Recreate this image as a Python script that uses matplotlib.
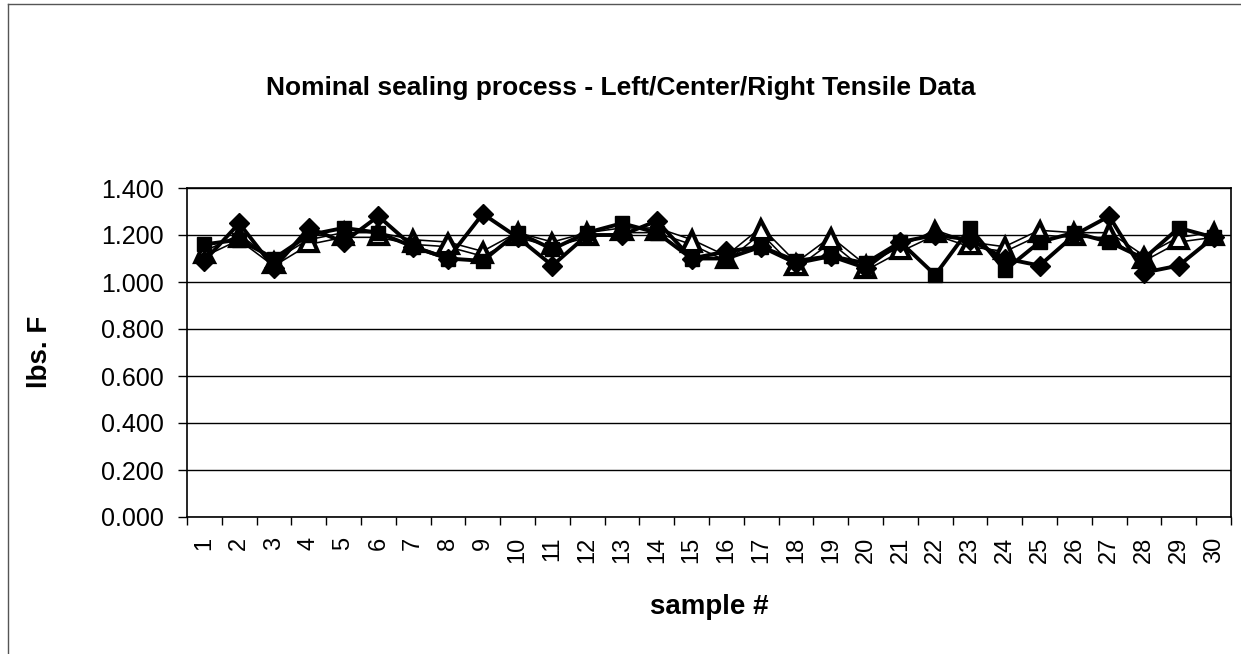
import matplotlib
matplotlib.use("Agg")
import matplotlib.pyplot as plt
import matplotlib.patheffects as pe
from matplotlib.lines import Line2D

plt.rcParams['font.family'] = ['Liberation Sans', 'DejaVu Sans']

samples = [str(i) for i in range(1, 31)]
left = [1.09, 1.25, 1.06, 1.23, 1.17, 1.28, 1.15, 1.10, 1.29, 1.19,
        1.07, 1.20, 1.20, 1.26, 1.10, 1.13, 1.15, 1.08, 1.11, 1.06,
        1.17, 1.20, 1.18, 1.10, 1.07, 1.20, 1.28, 1.04, 1.07, 1.19]
center = [1.16, 1.18, 1.10, 1.20, 1.23, 1.21, 1.15, 1.10, 1.09, 1.21,
          1.14, 1.21, 1.25, 1.21, 1.10, 1.10, 1.15, 1.09, 1.11, 1.08,
          1.17, 1.03, 1.23, 1.05, 1.17, 1.21, 1.17, 1.10, 1.23, 1.19]
right = [1.12, 1.19, 1.08, 1.17, 1.20, 1.20, 1.17, 1.16, 1.12, 1.20,
         1.16, 1.20, 1.22, 1.22, 1.17, 1.10, 1.22, 1.07, 1.18, 1.06,
         1.14, 1.21, 1.16, 1.14, 1.21, 1.20, 1.20, 1.10, 1.18, 1.20]
yticks = [0.0, 0.2, 0.4, 0.6, 0.8, 1.0, 1.2, 1.4]

W, H = 1241, 654
fig = plt.figure(figsize=(W / 100, H / 100), dpi=100)
ax = fig.add_axes([187 / W, 1 - 517 / H, (1231 - 187) / W, (517 - 188) / H])

x = list(range(len(samples)))
ax.plot(x, right, color='white', lw=2.2, marker='^', ms=11, mfc='white',
        mec='black', mew=1.5, zorder=3,
        path_effects=[pe.Stroke(linewidth=4.5, foreground='black'), pe.Normal()])
ax.plot(x, center, color='black', lw=2.8, marker='s', ms=10, zorder=4)
ax.plot(x, left, color='black', lw=2.8, marker='D', ms=10, zorder=5)

ax.set_xlim(-0.5, len(samples) - 0.5)
ax.set_ylim(0, 1.4)
ax.set_yticks(yticks)
ax.set_yticklabels([f"{v:.3f}" for v in yticks], fontsize=18)
ax.set_xticks(x)
ax.set_xticklabels(samples, rotation=90, fontsize=17)
ax.set_xticks([i - 0.5 for i in range(len(samples) + 1)], minor=True)
ax.tick_params(axis='x', which='major', length=0, pad=14)
ax.tick_params(axis='x', which='minor', length=6, width=1, direction='out', color='black')
ax.tick_params(axis='y', length=6.5, width=1, direction='out', pad=10)
ax.yaxis.grid(True, color='black', lw=1)
ax.set_axisbelow(True)
for s in ax.spines.values():
    s.set_color('black')
    s.set_linewidth(1.2)

fig.text(709 / W, 1 - 607 / H, 'sample #', ha='center', va='center',
         fontsize=20, fontweight='bold')
fig.text(40 / W, 1 - 352 / H, 'lbs. F', ha='center', va='center', rotation=90,
         fontsize=20, fontweight='bold')

fig.text(621 / W, 1 - 88 / H, 'Nominal sealing process - Left/Center/Right Tensile Data',
         ha='center', va='center', fontsize=19, fontweight='bold')

# chart area border (left and top visible)
fig.add_artist(Line2D([8 / W, 8 / W], [0, 1 - 4 / H], transform=fig.transFigure, color='#555555', lw=1))
fig.add_artist(Line2D([8 / W, 1], [1 - 4 / H, 1 - 4 / H], transform=fig.transFigure, color='#555555', lw=1))

fig.savefig('out.png', dpi=100, facecolor='white')
